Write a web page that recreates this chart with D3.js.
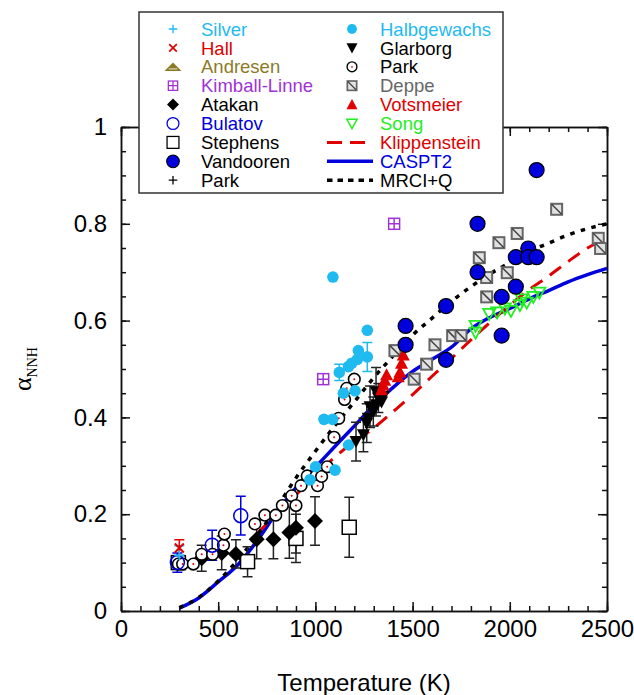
<!DOCTYPE html>
<html>
<head>
<meta charset="utf-8">
<script src="https://cdn.jsdelivr.net/npm/d3@7"></script>
<style>
body { margin: 0; background: #fff; }
text { font-family: "Liberation Sans", Arial, Helvetica, sans-serif; }
</style>
</head>
<body>
<div id="chart"></div>
<script>
// ---- data (T in K, alpha) ----
const silverT = [300], silverA = [0.115], silverE = [0.02];
const hallT = [300], hallA = [0.13], hallE = [0.017];
const andresenT = [300], andresenA = [0.1];
const kimballT = [1040, 1405], kimballA = [0.479, 0.80];
const atakanT = [415, 518, 591, 698, 784, 866, 900, 998];
const atakanA = [0.109, 0.12, 0.118, 0.148, 0.148, 0.162, 0.172, 0.186];
const atakanE = [0.027, 0.035, 0.029, 0.04, 0.04, 0.053, 0.052, 0.05];
const bulatovT = [290, 469, 616], bulatovA = [0.1, 0.136, 0.197], bulatovE = [0.02, 0.031, 0.04];
const stephensT = [295, 651, 900, 1174], stephensA = [0.1, 0.102, 0.15, 0.173], stephensE = [0.01, 0.031, 0.05, 0.062];
const vandoorenT = [1464, 1464, 1672, 1672, 1834, 1834, 1958, 1958, 2031, 2031, 2095, 2095, 2138, 2138];
const vandoorenA = [0.589, 0.55, 0.63, 0.519, 0.80, 0.70, 0.649, 0.569, 0.731, 0.67, 0.749, 0.731, 0.731, 0.911];
const parkPlusT = [300], parkPlusA = [0.1];
const halbT = [972, 1001, 1044, 1089, 1090, 1101, 1123, 1144, 1170, 1171, 1187, 1204, 1216, 1221, 1267, 1267];
const halbA = [0.271, 0.298, 0.396, 0.396, 0.69, 0.291, 0.493, 0.45, 0.505, 0.343, 0.512, 0.455, 0.52, 0.538, 0.525, 0.58];
const halbE = [0, 0, 0, 0, 0, 0, 0.017, 0, 0, 0, 0, 0, 0, 0, 0.03, 0];
const glarT = [1209, 1247, 1264, 1272, 1281, 1298, 1312, 1315, 1324, 1340, 1349];
const glarA = [0.35, 0.364, 0.388, 0.398, 0.422, 0.412, 0.453, 0.426, 0.44, 0.432, 0.443];
const glarE = [0.04, 0.035, 0.04, 0, 0.043, 0.03, 0.05, 0, 0.03, 0, 0];
const parkT = [295, 317, 372, 415, 471, 527, 532, 689, 740, 796, 830, 878, 900, 926, 958, 1003, 1011, 1032, 1061, 1096, 1120, 1150, 1161, 1200];
const parkA = [0.097, 0.097, 0.097, 0.117, 0.117, 0.136, 0.159, 0.18, 0.198, 0.198, 0.218, 0.238, 0.218, 0.259, 0.279, 0.279, 0.259, 0.278, 0.298, 0.359, 0.398, 0.437, 0.46, 0.479];
const deppeT = [1409, 1508, 1572, 1615, 1706, 1749, 1843, 1881, 1881, 1944, 1987, 2038, 2241, 2455, 2467];
const deppeA = [0.538, 0.479, 0.51, 0.55, 0.569, 0.569, 0.73, 0.689, 0.649, 0.761, 0.699, 0.78, 0.83, 0.77, 0.749];
const votsT = [1340, 1349, 1357, 1366, 1426, 1435, 1443, 1452];
const votsA = [0.457, 0.467, 0.477, 0.488, 0.484, 0.494, 0.512, 0.529];
const songT = [1824, 1824, 1894, 1935, 1975, 2006, 2052, 2061, 2087, 2121, 2152];
const songA = [0.575, 0.589, 0.614, 0.617, 0.625, 0.62, 0.632, 0.644, 0.637, 0.649, 0.658];

// theory curves
const caspT = [300, 400, 500, 600, 700, 800, 900, 1000, 1100, 1200, 1300, 1400, 1500, 1600, 1700, 1800, 1900, 2000, 2100, 2200, 2300, 2400, 2500];
const caspA = [0.006, 0.027, 0.06, 0.095, 0.145, 0.203, 0.255, 0.297, 0.34, 0.382, 0.425, 0.462, 0.495, 0.52, 0.545, 0.583, 0.607, 0.625, 0.645, 0.662, 0.68, 0.695, 0.708];
const mrciT = caspT;
const mrciA = [0.007, 0.028, 0.062, 0.105, 0.156, 0.213, 0.275, 0.33, 0.383, 0.432, 0.482, 0.527, 0.57, 0.605, 0.64, 0.67, 0.697, 0.72, 0.743, 0.76, 0.777, 0.79, 0.80];
const klipT = [700, 800, 900, 1000, 1100, 1200, 1300, 1400, 1500, 1600, 1700, 1800, 1900, 2000, 2100, 2200, 2300, 2400, 2500];
const klipA = [0.16, 0.2, 0.24, 0.28, 0.318, 0.35, 0.378, 0.412, 0.447, 0.485, 0.522, 0.56, 0.597, 0.632, 0.664, 0.692, 0.722, 0.75, 0.77];

const xMajor = [0, 500, 1000, 1500, 2000, 2500];
const yMajor = [0, 0.2, 0.4, 0.6, 0.8, 1];

// colours
const cyan = "#1fbaf0", red = "#e00000", olive = "#8c7a26", purple = "#a033d6",
      blue = "#0000dd", gray = "#666666", green = "#22ee22";

const W = 634, H = 695;
const svg = d3.select("#chart").append("svg").attr("width", W).attr("height", H);

const x = d3.scaleLinear().domain([0, 2500]).range([121, 607]);
const y = d3.scaleLinear().domain([0, 1]).range([611, 127]);

// axes (ticks inside)
function axisSet(axisFn, scale, minorVals, majorVals, size, transform, labels) {
  svg.append("g").attr("transform", transform)
    .call(axisFn(scale).tickValues(minorVals).tickSize(-5).tickSizeOuter(0).tickFormat(""));
  const g = svg.append("g").attr("transform", transform)
    .call(axisFn(scale).tickValues(majorVals).tickSize(-size).tickSizeOuter(0)
      .tickPadding(axisFn === d3.axisLeft ? 14 : 9)
      .tickFormat(labels ? (d => String(d)) : ""));
  return g;
}
const xMinor = d3.range(0, 2501, 100), yMinor = d3.range(0, 21).map(i => i * 0.05);
axisSet(d3.axisBottom, x, xMinor, xMajor, 9, "translate(0,611)", true);
axisSet(d3.axisTop, x, xMinor, xMajor, 9, "translate(0,127)", false);
axisSet(d3.axisLeft, y, yMinor, yMajor, 9, "translate(121,0)", true);
axisSet(d3.axisRight, y, yMinor, yMajor, 9, "translate(607,0)", false);
svg.selectAll(".domain, .tick line").attr("stroke", "#111").attr("stroke-width", 1.5);
svg.selectAll(".tick text").attr("font-size", 24).attr("fill", "#000")
  .style("font-family", "'Liberation Sans', Arial, sans-serif");

// axis titles
svg.append("text").attr("x", 364).attr("y", 691).attr("text-anchor", "middle")
  .attr("font-size", 24).text("Temperature (K)");
const yl = svg.append("text").attr("transform", "translate(31,391) rotate(-90)")
  .style("font-family", "'Liberation Serif', 'Times New Roman', serif");
yl.append("tspan").attr("font-size", 26).text("α");
yl.append("tspan").attr("font-size", 14).attr("dy", 6).text("NNH");

// curves
const line = d3.line().x(d => x(d[0])).y(d => y(d[1])).curve(d3.curveMonotoneX);
const curves = svg.append("g").attr("fill", "none");
curves.append("path").datum(d3.zip(caspT, caspA)).attr("d", line)
  .attr("stroke", blue).attr("stroke-width", 3.5);
curves.append("path").datum(d3.zip(klipT, klipA)).attr("d", line)
  .attr("stroke", red).attr("stroke-width", 3).attr("stroke-dasharray", "14,9");
curves.append("path").datum(d3.zip(mrciT, mrciA)).attr("d", line)
  .attr("stroke", "#000").attr("stroke-width", 3.5).attr("stroke-dasharray", "4.5,6.5");

// markers
function marker(g, type, cx, cy) {
  const m = g.append("g").attr("transform", `translate(${cx},${cy})`);
  switch (type) {
    case "silver":
      m.append("path").attr("d", "M-5,0H5M0,-5V5").attr("stroke", cyan).attr("stroke-width", 1.6); break;
    case "hall":
      m.append("path").attr("d", "M-4.5,-4.5L4.5,4.5M-4.5,4.5L4.5,-4.5").attr("stroke", red).attr("stroke-width", 2); break;
    case "andresen":
      m.append("path").attr("d", "M-10,5L0,-5L10,5Z").attr("fill", olive);
      m.append("path").attr("d", "M-5,2.5H5").attr("stroke", "#fff").attr("stroke-width", 1); break;
    case "kimball":
      m.append("rect").attr("x", -5.5).attr("y", -5.5).attr("width", 11).attr("height", 11)
        .attr("fill", "#fff").attr("stroke", purple).attr("stroke-width", 1.5);
      m.append("path").attr("d", "M-5.5,0H5.5M0,-5.5V5.5").attr("stroke", purple).attr("stroke-width", 1.5); break;
    case "atakan":
      m.append("path").attr("d", "M0,-8L8,0L0,8L-8,0Z").attr("fill", "#000"); break;
    case "bulatov":
      m.append("circle").attr("r", 7).attr("fill", "none").attr("stroke", blue).attr("stroke-width", 1.5); break;
    case "stephens":
      m.append("rect").attr("x", -7).attr("y", -7).attr("width", 14).attr("height", 14)
        .attr("fill", "#fff").attr("stroke", "#000").attr("stroke-width", 1.5); break;
    case "vandooren":
      m.append("circle").attr("r", 7.5).attr("fill", blue).attr("stroke", "#000").attr("stroke-width", 1.2); break;
    case "parkplus":
      m.append("path").attr("d", "M-5,0H5M0,-5V5").attr("stroke", "#000").attr("stroke-width", 1.5); break;
    case "halb":
      m.append("circle").attr("r", 5.8).attr("fill", cyan); break;
    case "glar":
      m.append("path").attr("d", "M-6.5,-5.5L6.5,-5.5L0,6.5Z").attr("fill", "#000"); break;
    case "park":
      m.append("circle").attr("r", 5.8).attr("fill", "#fff").attr("stroke", "#000").attr("stroke-width", 1.6);
      m.append("circle").attr("r", 1).attr("fill", red); break;
    case "deppe":
      m.append("rect").attr("x", -5.5).attr("y", -5.5).attr("width", 11).attr("height", 11)
        .attr("fill", "#e2e2e2").attr("stroke", gray).attr("stroke-width", 2);
      m.append("path").attr("d", "M-5,-5L5,5").attr("stroke", "#444").attr("stroke-width", 1.5); break;
    case "vots":
      m.append("path").attr("d", "M-6.5,5.5L6.5,5.5L0,-6.5Z").attr("fill", red); break;
    case "song":
      m.append("path").attr("d", "M-6,-5L6,-5L0,6Z").attr("fill", "none").attr("stroke", green).attr("stroke-width", 1.8); break;
  }
}

function errBars(g, Ts, As, Es, color) {
  Ts.forEach((t, i) => {
    const e = Es[i];
    if (!e) return;
    const cx = x(t), y1 = y(As[i] - e), y2 = y(As[i] + e);
    g.append("path").attr("d", `M${cx},${y1}V${y2}M${cx - 5},${y1}H${cx + 5}M${cx - 5},${y2}H${cx + 5}`)
      .attr("stroke", color).attr("stroke-width", 1.5).attr("fill", "none");
  });
}

const pts = svg.append("g");
errBars(pts, atakanT, atakanA, atakanE, "#222");
errBars(pts, stephensT, stephensA, stephensE, "#222");
errBars(pts, bulatovT, bulatovA, bulatovE, blue);
errBars(pts, glarT, glarA, glarE, "#222");
errBars(pts, halbT, halbA, halbE, cyan);
errBars(pts, silverT, silverA, silverE, cyan);
errBars(pts, hallT, hallA, hallE, red);

function series(type, Ts, As) {
  Ts.forEach((t, i) => marker(pts, type, x(t), y(As[i])));
}
series("stephens", stephensT, stephensA);
series("atakan", atakanT, atakanA);
series("andresen", andresenT, andresenA);
series("parkplus", parkPlusT, parkPlusA);
series("park", parkT, parkA);
series("halb", halbT, halbA);
series("glar", glarT, glarA);
series("deppe", deppeT, deppeA);
series("vots", votsT, votsA);
series("song", songT, songA);
series("vandooren", vandoorenT, vandoorenA);
series("bulatov", bulatovT, bulatovA);
series("kimball", kimballT, kimballA);
series("silver", silverT, silverA);
series("hall", hallT, hallA);

// legend
const leg = svg.append("g");
leg.append("rect").attr("x", 139).attr("y", 12).attr("width", 364).attr("height", 181)
  .attr("fill", "#fff").attr("stroke", "#333").attr("stroke-width", 1.5);

const leftNames = ["Silver", "Hall", "Andresen", "Kimball-Linne", "Atakan", "Bulatov", "Stephens", "Vandooren", "Park"];
const leftTypes = ["silver", "hall", "andresen", "kimball", "atakan", "bulatov", "stephens", "vandooren", "parkplus"];
const leftColors = [cyan, red, olive, purple, "#000", blue, "#000", "#000", "#000"];
const rightNames = ["Halbgewachs", "Glarborg", "Park", "Deppe", "Votsmeier", "Song", "Klippenstein", "CASPT2", "MRCI+Q"];
const rightTypes = ["halb", "glar", "park", "deppe", "vots", "song", "klip", "casp", "mrci"];
const rightColors = [cyan, "#000", "#000", gray, red, green, red, blue, "#000"];

const rowY = i => 29 + i * 18.9;
leftNames.forEach((name, i) => {
  const legScale = leftTypes[i] === "atakan" ? 0.75 : 0.85;
  const mg = leg.append("g").attr("transform", `translate(173,${rowY(i)}) scale(${legScale})`);
  marker(mg, leftTypes[i], 0, 0);
  leg.append("text").attr("x", 201).attr("y", rowY(i) + 6.6).attr("font-size", 18.5)
    .attr("fill", leftColors[i]).text(name);
});
rightNames.forEach((name, i) => {
  const t = rightTypes[i], cy = rowY(i);
  if (t === "klip") {
    leg.append("path").attr("d", `M327,${cy}H373`).attr("stroke", red).attr("stroke-width", 3).attr("stroke-dasharray", "15,8");
  } else if (t === "casp") {
    leg.append("path").attr("d", `M327,${cy}H373`).attr("stroke", blue).attr("stroke-width", 3.5);
  } else if (t === "mrci") {
    leg.append("path").attr("d", `M327,${cy}H373`).attr("stroke", "#000").attr("stroke-width", 3.5).attr("stroke-dasharray", "5.5,5");
  } else {
    const mg = leg.append("g").attr("transform", `translate(352,${cy}) scale(0.85)`);
    marker(mg, t, 0, 0);
  }
  leg.append("text").attr("x", 380).attr("y", cy + 6.6).attr("font-size", 18.5)
    .attr("fill", rightColors[i]).text(name);
});
</script>
</body>
</html>
